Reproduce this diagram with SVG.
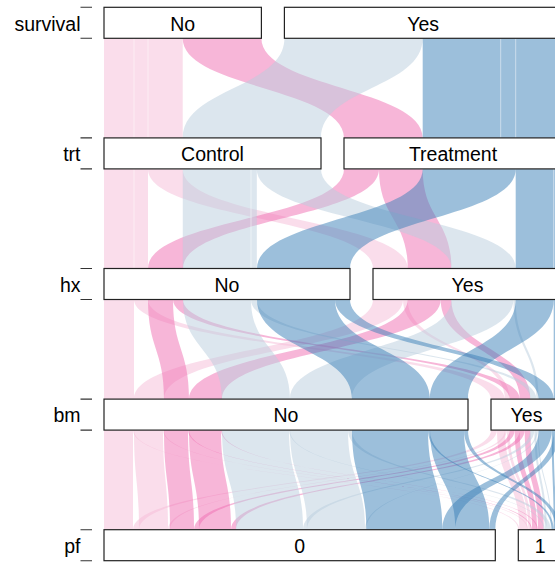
<svg xmlns="http://www.w3.org/2000/svg" width="555" height="562" viewBox="0 0 555 562">
<style>
.nc{fill:#F5BBD7;fill-opacity:.5}
.nt{fill:#EF6DB1;fill-opacity:.5}
.yc{fill:#B9CDDD;fill-opacity:.5}
.yt{fill:#397FB7;fill-opacity:.5}
.sub{stroke:#fff;stroke-width:.8;stroke-opacity:.6;fill:none}
.box{fill:#fff;stroke:#222;stroke-width:1.2}
.lbl{font-family:"Liberation Sans",Arial,sans-serif;font-size:19.5px;fill:#000;text-anchor:middle}
.ax{font-family:"Liberation Sans",Arial,sans-serif;font-size:19.5px;fill:#000;text-anchor:end}
.tk{stroke:#333;stroke-width:1.1}
</style>
<rect width="555" height="562" fill="#fff"/>
<g id="connectors">
<g id="gap1">
<rect class="nc" x="104" y="38.3" width="78.7" height="99.6"/>
<path class="nt" d="M182.7,38.3 C182.7,88.1 344,88.1 344,137.9 L422.7,137.9 C422.7,88.1 261.4,88.1 261.4,38.3Z"/>
<path class="yc" d="M284.4,38.3 C284.4,88.1 182.7,88.1 182.7,137.9 L321,137.9 C321,88.1 422.7,88.1 422.7,38.3Z"/>
<rect class="yt" x="422.7" y="38.3" width="139.3" height="99.6"/>
<path class="sub" d="M134,38.3V137.9M148,38.3V137.9M500.7,38.3V137.9M515.7,38.3V137.9"/>
</g>
<g id="gap2">
<rect class="nc" x="104" y="168.9" width="44" height="99.6"/>
<path class="nc" d="M148,168.9 C148,218.7 373,218.7 373,268.5 L407.7,268.5 C407.7,218.7 182.7,218.7 182.7,168.9Z"/>
<path class="nt" d="M344,168.9 C344,218.7 148,218.7 148,268.5 L183,268.5 C183,218.7 379,218.7 379,168.9Z"/>
<path class="nt" d="M379,168.9 C379,218.7 407.7,218.7 407.7,268.5 L451.4,268.5 C451.4,218.7 422.7,218.7 422.7,168.9Z"/>
<rect class="yc" x="182.8" y="168.9" width="74" height="99.6"/>
<path class="yc" d="M256.7,168.9 C256.7,218.7 451.4,218.7 451.4,268.5 L515.7,268.5 C515.7,218.7 321,218.7 321,168.9Z"/>
<path class="yt" d="M422.7,168.9 C422.7,218.7 257,218.7 257,268.5 L350,268.5 C350,218.7 515.7,218.7 515.7,168.9Z"/>
<rect class="yt" x="515.7" y="168.9" width="46.3" height="99.6"/>
<path class="sub" d="M134,168.9V268.5M251,168.9V268.5M553.7,168.9V268.5"/>
</g>
<g id="gap3">
<rect class="nc" x="104" y="299.5" width="30" height="99.6"/>
<path class="nc" d="M134,299.5 C134,349.3 491,349.3 491,399.1 L505,399.1 C505,349.3 148,349.3 148,299.5Z"/>
<path class="nc" d="M373,299.5 C373,349.3 134,349.3 134,399.1 L164,399.1 C164,349.3 403,349.3 403,299.5Z"/>
<path class="nc" d="M403,299.5 C403,349.3 505,349.3 505,399.1 L509.7,399.1 C509.7,349.3 407.7,349.3 407.7,299.5Z"/>
<path class="nt" d="M148,299.5 C148,349.3 164,349.3 164,399.1 L189,399.1 C189,349.3 173,349.3 173,299.5Z"/>
<path class="nt" d="M173,299.5 C173,349.3 509.7,349.3 509.7,399.1 L519.7,399.1 C519.7,349.3 183,349.3 183,299.5Z"/>
<path class="nt" d="M407.7,299.5 C407.7,349.3 189,349.3 189,399.1 L222,399.1 C222,349.3 440.7,349.3 440.7,299.5Z"/>
<path class="nt" d="M440.7,299.5 C440.7,349.3 519.7,349.3 519.7,399.1 L530.4,399.1 C530.4,349.3 451.4,349.3 451.4,299.5Z"/>
<path class="yc" d="M183,299.5 C183,349.3 222,349.3 222,399.1 L290,399.1 C290,349.3 251,349.3 251,299.5Z"/>
<path class="yc" d="M251,299.5 C251,349.3 530.4,349.3 530.4,399.1 L536.4,399.1 C536.4,349.3 257,349.3 257,299.5Z"/>
<path class="yc" d="M451.4,299.5 C451.4,349.3 290,349.3 290,399.1 L352,399.1 C352,349.3 513.4,349.3 513.4,299.5Z"/>
<path class="yc" d="M513.4,299.5 C513.4,349.3 536.4,349.3 536.4,399.1 L538.7,399.1 C538.7,349.3 515.7,349.3 515.7,299.5Z"/>
<path class="yt" d="M257,299.5 C257,349.3 352,349.3 352,399.1 L430,399.1 C430,349.3 335,349.3 335,299.5Z"/>
<path class="yt" d="M335,299.5 C335,349.3 538.7,349.3 538.7,399.1 L553.7,399.1 C553.7,349.3 350,349.3 350,299.5Z"/>
<path class="yt" d="M515.7,299.5 C515.7,349.3 430,349.3 430,399.1 L468,399.1 C468,349.3 553.7,349.3 553.7,299.5Z"/>
<rect class="yt" x="553.7" y="299.5" width="8.3" height="99.6"/>
</g>
<g id="gap4">
<rect class="nc" x="104" y="430.1" width="29" height="99.6"/>
<path class="nc" d="M133,430.1 C133,479.9 518.3,479.9 518.3,529.7 L519.3,529.7 C519.3,479.9 134,479.9 134,430.1Z"/>
<path class="nc" d="M491,430.1 C491,479.9 133,479.9 133,529.7 L139,529.7 C139,479.9 497,479.9 497,430.1Z"/>
<path class="nc" d="M497,430.1 C497,479.9 519.3,479.9 519.3,529.7 L527.3,529.7 C527.3,479.9 505,479.9 505,430.1Z"/>
<path class="nc" d="M134,430.1 C134,479.9 139,479.9 139,529.7 L168,529.7 C168,479.9 163,479.9 163,430.1Z"/>
<path class="nc" d="M163,430.1 C163,479.9 527.3,479.9 527.3,529.7 L528.3,529.7 C528.3,479.9 164,479.9 164,430.1Z"/>
<path class="nc" d="M505,430.1 C505,479.9 168,479.9 168,529.7 L170,529.7 C170,479.9 507,479.9 507,430.1Z"/>
<path class="nc" d="M507,430.1 C507,479.9 528.3,479.9 528.3,529.7 L531,529.7 C531,479.9 509.7,479.9 509.7,430.1Z"/>
<path class="nt" d="M164,430.1 C164,479.9 170,479.9 170,529.7 L194,529.7 C194,479.9 188,479.9 188,430.1Z"/>
<path class="nt" d="M188,430.1 C188,479.9 531,479.9 531,529.7 L532,529.7 C532,479.9 189,479.9 189,430.1Z"/>
<path class="nt" d="M509.7,430.1 C509.7,479.9 194,479.9 194,529.7 L199,529.7 C199,479.9 514.7,479.9 514.7,430.1Z"/>
<path class="nt" d="M514.7,430.1 C514.7,479.9 532,479.9 532,529.7 L537,529.7 C537,479.9 519.7,479.9 519.7,430.1Z"/>
<path class="nt" d="M189,430.1 C189,479.9 199,479.9 199,529.7 L231,529.7 C231,479.9 221,479.9 221,430.1Z"/>
<path class="nt" d="M221,430.1 C221,479.9 537,479.9 537,529.7 L538,529.7 C538,479.9 222,479.9 222,430.1Z"/>
<path class="nt" d="M519.7,430.1 C519.7,479.9 231,479.9 231,529.7 L236,529.7 C236,479.9 524.7,479.9 524.7,430.1Z"/>
<path class="nt" d="M524.7,430.1 C524.7,479.9 538,479.9 538,529.7 L543.7,529.7 C543.7,479.9 530.4,479.9 530.4,430.1Z"/>
<path class="yc" d="M222,430.1 C222,479.9 236,479.9 236,529.7 L303,529.7 C303,479.9 289,479.9 289,430.1Z"/>
<path class="yc" d="M289,430.1 C289,479.9 543.7,479.9 543.7,529.7 L544.7,529.7 C544.7,479.9 290,479.9 290,430.1Z"/>
<path class="yc" d="M530.4,430.1 C530.4,479.9 303,479.9 303,529.7 L307,529.7 C307,479.9 534.4,479.9 534.4,430.1Z"/>
<path class="yc" d="M534.4,430.1 C534.4,479.9 544.7,479.9 544.7,529.7 L546.7,529.7 C546.7,479.9 536.4,479.9 536.4,430.1Z"/>
<path class="yc" d="M290,430.1 C290,479.9 307,479.9 307,529.7 L365,529.7 C365,479.9 348,479.9 348,430.1Z"/>
<path class="yc" d="M348,430.1 C348,479.9 546.7,479.9 546.7,529.7 L550.7,529.7 C550.7,479.9 352,479.9 352,430.1Z"/>
<path class="yc" d="M536.4,430.1 C536.4,479.9 365,479.9 365,529.7 L366.3,529.7 C366.3,479.9 537.7,479.9 537.7,430.1Z"/>
<path class="yc" d="M537.7,430.1 C537.7,479.9 550.7,479.9 550.7,529.7 L551.7,529.7 C551.7,479.9 538.7,479.9 538.7,430.1Z"/>
<path class="yt" d="M352,430.1 C352,479.9 366.3,479.9 366.3,529.7 L442.3,529.7 C442.3,479.9 428,479.9 428,430.1Z"/>
<path class="yt" d="M428,430.1 C428,479.9 551.7,479.9 551.7,529.7 L553.7,529.7 C553.7,479.9 430,479.9 430,430.1Z"/>
<path class="yt" d="M538.7,430.1 C538.7,479.9 442.3,479.9 442.3,529.7 L455.3,529.7 C455.3,479.9 551.7,479.9 551.7,430.1Z"/>
<path class="yt" d="M551.7,430.1 C551.7,479.9 553.7,479.9 553.7,529.7 L555.7,529.7 C555.7,479.9 553.7,479.9 553.7,430.1Z"/>
<path class="yt" d="M430,430.1 C430,479.9 455.3,479.9 455.3,529.7 L489.3,529.7 C489.3,479.9 464,479.9 464,430.1Z"/>
<path class="yt" d="M464,430.1 C464,479.9 555.7,479.9 555.7,529.7 L559.7,529.7 C559.7,479.9 468,479.9 468,430.1Z"/>
<path class="yt" d="M553.7,430.1 C553.7,479.9 489.3,479.9 489.3,529.7 L495.3,529.7 C495.3,479.9 559.7,479.9 559.7,430.1Z"/>
<rect class="yt" x="559.7" y="430.1" width="2.3" height="99.6"/>
</g>
</g>
<g id="axis">
<text class="ax" x="80.5" y="30.6">survival</text>
<text class="ax" x="80.5" y="161.2">trt</text>
<text class="ax" x="80.5" y="291.8">hx</text>
<text class="ax" x="80.5" y="422.4">bm</text>
<text class="ax" x="80.5" y="553">pf</text>
<path class="tk" d="M80.5,7.3H92M80.5,38.3H92M80.5,137.9H92M80.5,168.9H92M80.5,268.5H92M80.5,299.5H92M80.5,399.1H92M80.5,430.1H92M80.5,529.7H92M80.5,560.7H92"/>
</g>
<g id="survival-No"><rect class="box" x="104" y="7.3" width="157.4" height="31"/><text class="lbl" x="182.7" y="30.6">No</text></g>
<g id="survival-Yes"><rect class="box" x="284.4" y="7.3" width="277.6" height="31"/><text class="lbl" x="423.2" y="30.6">Yes</text></g>
<g id="trt-Control"><rect class="box" x="104" y="137.9" width="217" height="31"/><text class="lbl" x="212.5" y="161.2">Control</text></g>
<g id="trt-Treatment"><rect class="box" x="344" y="137.9" width="218" height="31"/><text class="lbl" x="453" y="161.2">Treatment</text></g>
<g id="hx-No"><rect class="box" x="104" y="268.5" width="246" height="31"/><text class="lbl" x="227" y="291.8">No</text></g>
<g id="hx-Yes"><rect class="box" x="373" y="268.5" width="189" height="31"/><text class="lbl" x="467.5" y="291.8">Yes</text></g>
<g id="bm-No"><rect class="box" x="104" y="399.1" width="364" height="31"/><text class="lbl" x="286" y="422.4">No</text></g>
<g id="bm-Yes"><rect class="box" x="491" y="399.1" width="71" height="31"/><text class="lbl" x="526.5" y="422.4">Yes</text></g>
<g id="pf-0"><rect class="box" x="104" y="529.7" width="391.3" height="31"/><text class="lbl" x="299.7" y="553">0</text></g>
<g id="pf-1"><rect class="box" x="518.3" y="529.7" width="43.7" height="31"/><text class="lbl" x="540.2" y="553">1</text></g>
</svg>
